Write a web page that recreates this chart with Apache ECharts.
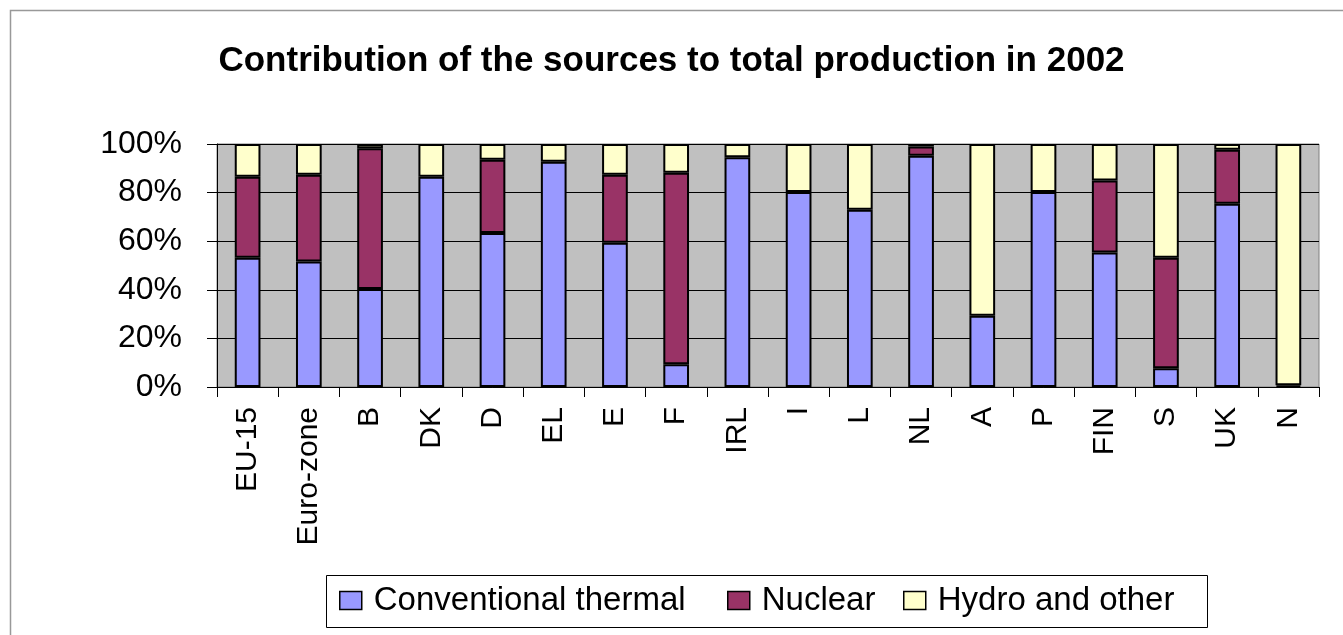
<!DOCTYPE html>
<html>
<head>
<meta charset="utf-8">
<script src="https://cdn.jsdelivr.net/npm/echarts@6/dist/echarts.min.js"></script>
<style>
html, body { margin: 0; padding: 0; background: #fff; }
#chart { width: 1343px; height: 635px; }
</style>
</head>
<body>
<div id="chart"></div>
<script>
var countries = ['EU-15', 'Euro-zone', 'B', 'DK', 'D', 'EL', 'E', 'F', 'IRL', 'I', 'L', 'NL', 'A', 'P', 'FIN', 'S', 'UK', 'N'];
var thermal = [53.2, 51.6, 40.3, 86.5, 63.4, 92.7, 59.4, 9.4, 94.5, 80.2, 72.9, 95.2, 29.3, 80.2, 55.4, 7.7, 75.4, 0.7];
var nuclear = [33.3, 35.7, 58.0, 0, 30.1, 0, 27.9, 78.8, 0, 0, 0, 3.8, 0, 0, 29.6, 45.5, 22.2, 0];
var hydro = [13.5, 12.7, 1.7, 13.5, 6.5, 7.3, 12.7, 11.8, 5.5, 19.8, 27.1, 1.0, 70.7, 19.8, 15.0, 46.8, 2.4, 99.3];
var yTicks = [0, 20, 40, 60, 80, 100];
var seriesNames = ['Conventional thermal', 'Nuclear', 'Hydro and other'];

var ChartPage = {
	font : 'Arial, "Liberation Sans", sans-serif',
	init : function() {
		ChartPage.chart = echarts.init(document.getElementById('chart'));
		ChartPage.render();
	},
	bar : function(name, data, color) {
		return {
			name : name,
			type : 'bar',
			stack : 'total',
			barWidth : '42%',
			// zero shares are left out so no empty border gets drawn
			data : data.map(function(v) { return v > 0 ? v : '-'; }),
			itemStyle : { color : color, borderColor : '#000', borderWidth : 2 },
			emphasis : { disabled : true }
		};
	},
	legendItem : function(name, left) {
		return {
			left : left,
			top : 584,
			padding : 0,
			itemWidth : 22,
			itemHeight : 18,
			icon : 'rect',
			selectedMode : false,
			itemStyle : { borderWidth : 1.5, borderColor : '#000' },
			textStyle : { fontFamily : ChartPage.font, fontSize : 33, lineHeight : 33, color : '#000', padding : [0, 0, 0, 7] },
			data : [name]
		};
	},
	render : function() {
		var font = ChartPage.font;
		var option = {
			animation : false,
			backgroundColor : '#fff',
			title : {
				text : 'Contribution of the sources to total production in 2002',
				left : 'center',
				top : 39,
				textStyle : { fontFamily : font, fontWeight : 'bold', fontSize : 35, color : '#000' }
			},
			legend : [
				ChartPage.legendItem(seriesNames[0], 339),
				ChartPage.legendItem(seriesNames[1], 727),
				ChartPage.legendItem(seriesNames[2], 903)
			],
			grid : {
				left : 217,
				right : 24,
				top : 144,
				bottom : 248,
				show : true,
				backgroundColor : '#C0C0C0',
				borderColor : '#808080',
				borderWidth : 1
			},
			xAxis : {
				type : 'category',
				data : countries,
				axisLine : { lineStyle : { color : '#000', width : 1 } },
				axisTick : { show : true, length : 10, lineStyle : { color : '#000' } },
				axisLabel : { rotate : 90, margin : 20, fontFamily : font, fontSize : 30, color : '#000' },
				splitLine : { show : false }
			},
			yAxis : {
				type : 'value',
				min : yTicks[0],
				max : yTicks[yTicks.length - 1],
				interval : 20,
				axisLine : { show : true, lineStyle : { color : '#000', width : 1 } },
				axisTick : { show : true, length : 10, lineStyle : { color : '#000' } },
				axisLabel : {
					margin : 35,
					fontFamily : font,
					fontSize : 32,
					color : '#000',
					formatter : function(v) { return v + '%'; }
				},
				splitLine : { show : true, lineStyle : { color : '#000', width : 1 } }
			},
			graphic : [{
				type : 'rect',
				shape : { x : 10.5, y : 10.5, width : 1400, height : 700 },
				style : { fill : null, stroke : '#999', lineWidth : 1.5 },
				silent : true,
				z : -1
			}, {
				type : 'rect',
				shape : { x : 326.5, y : 575.5, width : 881, height : 52 },
				style : { fill : '#fff', stroke : '#000', lineWidth : 1 },
				silent : true,
				z : -1
			}],
			series : [
				ChartPage.bar(seriesNames[0], thermal, '#9999FF'),
				ChartPage.bar(seriesNames[1], nuclear, '#993366'),
				ChartPage.bar(seriesNames[2], hydro, '#FFFFCC')
			]
		};
		ChartPage.chart.setOption(option);
	}
};
ChartPage.init();
</script>
</body>
</html>
